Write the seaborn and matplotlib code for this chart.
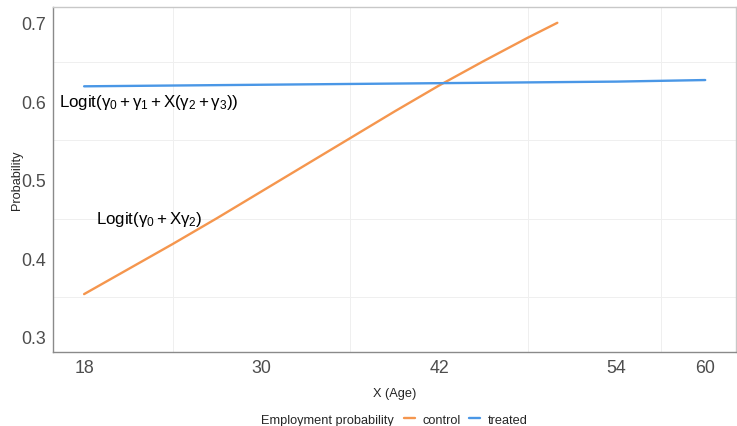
import numpy as np
import pandas as pd
import matplotlib
matplotlib.use("Agg")
import matplotlib.pyplot as plt
import seaborn as sns

# Predicted employment probability by age for each group
control_age = [18, 21, 24, 27, 30, 33, 36, 39, 42, 45, 48, 50]
control_prob = [0.354, 0.386, 0.418, 0.451, 0.485, 0.519, 0.553, 0.587,
                0.620, 0.651, 0.681, 0.700]
treated_age = [18, 30, 42, 54, 60]
treated_prob = [0.619, 0.621, 0.623, 0.625, 0.627]

groups = ["control", "treated"]
palette = {"control": "#F5964E", "treated": "#4A97E6"}
x_ticks = [18, 30, 42, 54, 60]
x_minor = [24, 36, 48, 57]
y_ticks = [0.3, 0.4, 0.5, 0.6, 0.7]
y_minor = [0.35, 0.45, 0.55, 0.65]

df = pd.concat([
    pd.DataFrame({"age": control_age, "prob": control_prob, "group": "control"}),
    pd.DataFrame({"age": treated_age, "prob": treated_prob, "group": "treated"}),
])

sns.set_style("white")
plt.rcParams["font.family"] = ["Liberation Sans", "DejaVu Sans"]
plt.rcParams["mathtext.fontset"] = "custom"
plt.rcParams["mathtext.rm"] = "Liberation Sans"
plt.rcParams["mathtext.it"] = "Liberation Sans"
plt.rcParams["mathtext.bf"] = "Liberation Sans"

fig = plt.figure(figsize=(7.37, 4.27), dpi=100)
ax = fig.add_axes([0.072, 0.173, 0.927, 0.808])

sns.lineplot(data=df, x="age", y="prob", hue="group", hue_order=groups,
             palette=palette, linewidth=1.7, ax=ax, legend=True)

ax.set_xlim(15.9, 62.1)
ax.set_ylim(0.28, 0.72)
ax.set_xticks(x_ticks)
ax.set_xticklabels([str(v) for v in x_ticks])
ax.set_yticks(y_ticks)
ax.set_yticklabels([f"{v:.1f}" for v in y_ticks])
ax.set_xticks(x_minor, minor=True)
ax.set_yticks(y_minor, minor=True)
ax.grid(False)
ax.grid(which="minor", color="#EFEFEF", linewidth=0.7)
ax.set_axisbelow(True)
ax.tick_params(which="major", direction="out", length=3, width=0.8,
               color="#8A8A8A", labelsize=12.8, labelcolor="#4D4D4D", pad=2)
ax.tick_params(which="minor", length=0)

for side in ["left", "bottom"]:
    ax.spines[side].set_color("#8A8A8A")
    ax.spines[side].set_linewidth(1.0)
for side in ["top", "right"]:
    ax.spines[side].set_color("#C8C8C8")
    ax.spines[side].set_linewidth(1.0)

ax.set_xlabel("X (Age)", fontsize=9.2, labelpad=8)
ax.set_ylabel("Probability", fontsize=9.2)
ax.yaxis.set_label_coords(-0.044, 0.5)

ax.text(22.4, 0.60, r"$\mathrm{Logit}(\gamma_0+\gamma_1+X(\gamma_2+\gamma_3))$",
        ha="center", va="center", fontsize=12.2, color="black")
ax.text(22.4, 0.45, r"$\mathrm{Logit}(\gamma_0+X\gamma_2)$",
        ha="center", va="center", fontsize=12.2, color="black")

sns.move_legend(ax, "center", bbox_to_anchor=(0.632, 0.0147),
                bbox_transform=fig.transFigure, ncol=2, title=None,
                frameon=False, fontsize=9.2, handlelength=0.9,
                handletextpad=0.6, columnspacing=0.6)
fig.text(0.444, 0.0147, "Employment probability", ha="center", va="center",
         fontsize=9.2)

fig.savefig("out.png", dpi=100)
